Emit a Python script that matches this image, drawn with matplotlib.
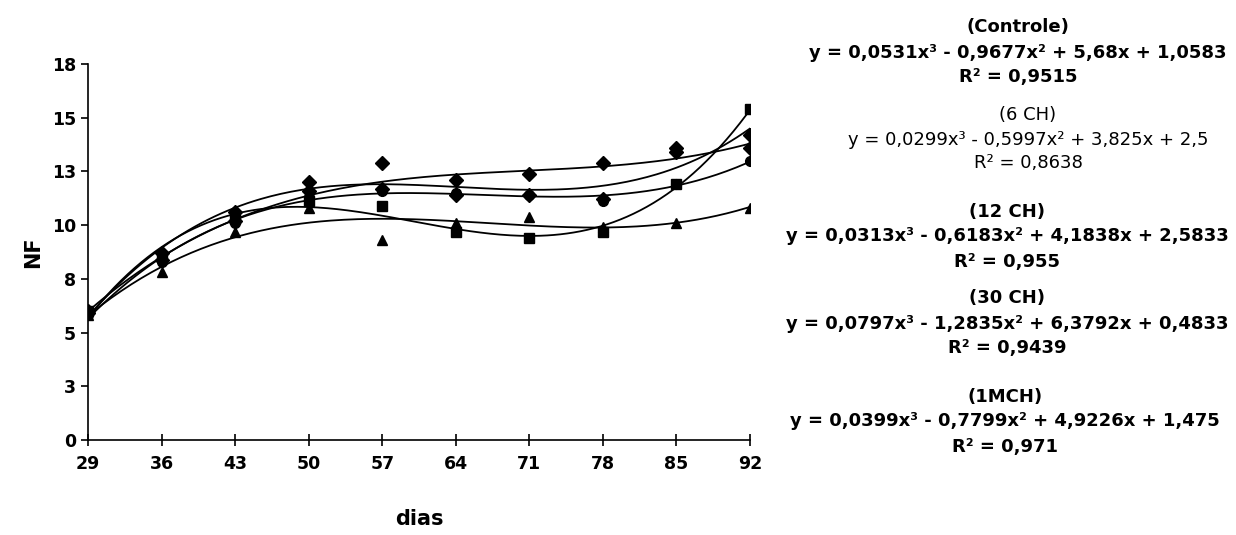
import numpy as np
import matplotlib
matplotlib.use("Agg")
import matplotlib.pyplot as plt

plt.rcParams['font.family'] = ['DejaVu Sans']

# dias de avaliacao
dias = [29, 36, 43, 50, 57, 64, 71, 78, 85, 92]

# numero de folhas (NF) por tratamento
nf_controle = [5.9, 8.7, 10.6, 11.6, 12.9, 11.4, 11.4, 11.2, 13.6, 14.2]
nf_6ch = [5.8, 7.8, 9.7, 10.8, 9.3, 10.1, 10.4, 9.9, 10.1, 10.8]
nf_12ch = [6.0, 8.4, 10.2, 12.0, 11.7, 12.1, 12.4, 12.9, 13.4, 13.6]
nf_30ch = [6.0, 8.5, 10.3, 11.1, 10.9, 9.7, 9.4, 9.7, 11.9, 15.4]
nf_1mch = [5.8, 8.3, 10.1, 11.3, 11.6, 11.5, 11.4, 11.1, 11.9, 13.0]

y_ticks = [0, 2.5, 5, 7.5, 10, 12.5, 15, 17.5]
y_labels = ["0", "3", "5", "8", "10", "13", "15", "18"]

# textos das equacoes (lado direito)
eq_blocks = [
    ("(Controle)", "y = 0,0531x³ - 0,9677x² + 5,68x + 1,0583", "R² = 0,9515"),
    ("(6 CH)", "y = 0,0299x³ - 0,5997x² + 3,825x + 2,5", "R² = 0,8638"),
    ("(12 CH)", "y = 0,0313x³ - 0,6183x² + 4,1838x + 2,5833", "R² = 0,955"),
    ("(30 CH)", "y = 0,0797x³ - 1,2835x² + 6,3792x + 0,4833", "R² = 0,9439"),
    ("(1MCH)", "y = 0,0399x³ - 0,7799x² + 4,9226x + 1,475", "R² = 0,971"),
]

series = [
    (nf_controle, 'D'),
    (nf_6ch, '^'),
    (nf_12ch, 'D'),
    (nf_30ch, 's'),
    (nf_1mch, 'o'),
]

fig = plt.figure(figsize=(12.36, 5.35), dpi=100)
ax = fig.add_axes([0.0712, 0.1776, 0.5356, 0.7028])

idx = np.arange(1, len(dias) + 1)
fine = np.linspace(1, len(dias), 200)
fine_days = dias[0] + (fine - 1) * (dias[1] - dias[0])

for vals, mk in series:
    coef = np.polyfit(idx, vals, 3)
    ax.plot(fine_days, np.polyval(coef, fine), color='black', lw=1.3)
    ax.plot(dias, vals, linestyle='none', marker=mk, color='black', markersize=7)

ax.set_xlim(29, 92)
ax.set_ylim(0, 17.5)
ax.set_xticks(dias)
ax.set_xticklabels([str(d) for d in dias])
ax.set_yticks(y_ticks)
ax.set_yticklabels(y_labels)
ax.spines['top'].set_visible(False)
ax.spines['right'].set_visible(False)
ax.spines['left'].set_linewidth(1.2)
ax.spines['bottom'].set_linewidth(1.2)
ax.tick_params(axis='both', direction='out', length=5, width=1.2, labelsize=12.5)
ax.tick_params(axis='x', direction='inout', length=8, pad=7)
for lab in ax.get_xticklabels() + ax.get_yticklabels():
    lab.set_fontweight('bold')

ax.set_xlabel("dias", fontsize=15, fontweight='bold', labelpad=26)
ax.set_ylabel("NF", fontsize=15, fontweight='bold', labelpad=6)

# posicoes em pixels (topo da imagem) -> fracao da figura
W, H = 1236.0, 535.0
ys = [(27, 53, 77), (115, 140, 163), (212, 236, 262), (298, 324, 348), (397, 421, 447)]
xs = [1018, 1028, 1007, 1007, 1005]
weights = ['bold', 'normal', 'bold', 'bold', 'bold']
for (t, eq, r2), (y1, y2, y3), xc, fw in zip(eq_blocks, ys, xs, weights):
    for s, yy in ((t, y1), (eq, y2), (r2, y3)):
        fig.text(xc / W, 1 - yy / H, s, ha='center', va='center',
                 fontsize=13, fontweight=fw)

fig.savefig("out.png", dpi=100, facecolor='white')
